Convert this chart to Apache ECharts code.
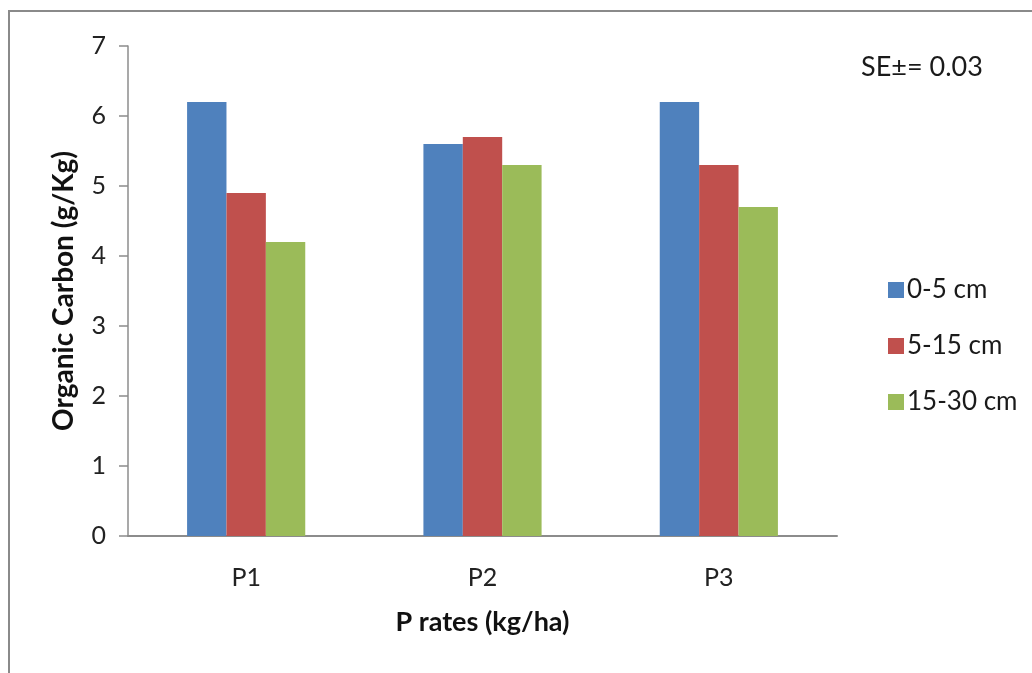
<!DOCTYPE html>
<html>
<head>
<meta charset="utf-8">
<script src="https://cdn.jsdelivr.net/npm/echarts@6/dist/echarts.min.js"></script>
<style>
  html, body { margin: 0; padding: 0; background: #fff; }
  #chart { width: 1032px; height: 673px; position: relative; }
  #frame { position: absolute; left: 8px; top: 10px; right: -4px; bottom: -4px;
           border: 2px solid #8a8a8a; pointer-events: none; }
</style>
</head>
<body>
<div id="chart"></div>
<div id="frame"></div>
<script>
// Phosphorus application rates
const categories = ['P1', 'P2', 'P3'];
// Organic carbon (g/Kg) by soil depth
const depth0to5 = [6.2, 5.6, 6.2];
const depth5to15 = [4.9, 5.7, 5.3];
const depth15to30 = [4.2, 5.3, 4.7];
const seriesNames = ['0-5 cm', '5-15 cm', '15-30 cm'];
const yTicks = [0, 1, 2, 3, 4, 5, 6, 7];
const yTitle = 'Organic Carbon (g/Kg)';

const FONT = 'Lato, "Noto Sans", sans-serif';
const colors = ['#4F81BD', '#C0504D', '#9BBB59'];

const chart = echarts.init(document.getElementById('chart'), null, { renderer: 'canvas' });

const seriesData = [depth0to5, depth5to15, depth15to30];

chart.setOption({
  animation: false,
  backgroundColor: '#fff',
  color: colors,
  textStyle: { fontFamily: FONT },
  grid: { left: 128, right: 195, top: 46, bottom: 137, containLabel: false },
  title: {
    text: 'SE±= 0.03',
    left: 856, top: 49,
    textStyle: { fontFamily: FONT, fontSize: 27, fontWeight: 'normal', color: '#1a1a1a' }
  },
  // Vertical axis title, centred beside the plot area
  graphic: [{
    type: 'text',
    x: 64, y: 291,
    rotation: Math.PI / 2,
    style: {
      text: yTitle,
      font: 'bold 28px ' + FONT,
      fill: '#111',
      align: 'center',
      verticalAlign: 'middle'
    }
  }],
  legend: {
    orient: 'vertical',
    left: 883, top: 272,
    itemWidth: 16, itemHeight: 16, itemGap: 30,
    icon: 'rect',
    data: seriesNames,
    textStyle: { fontFamily: FONT, fontSize: 26, color: '#1a1a1a', padding: [0, 0, 0, -2] }
  },
  xAxis: {
    type: 'category',
    data: categories,
    name: 'P rates (kg/ha)',
    nameLocation: 'middle',
    nameGap: 73,
    nameTextStyle: { fontFamily: FONT, fontSize: 27, fontWeight: 'bold', color: '#111' },
    axisLine: { lineStyle: { color: '#8c8c8c', width: 2 } },
    axisTick: { show: false },
    axisLabel: { fontFamily: FONT, fontSize: 25, color: '#222', margin: 29 }
  },
  yAxis: {
    type: 'value',
    min: yTicks[0], max: yTicks[yTicks.length - 1], interval: 1,
    axisLine: { show: true, lineStyle: { color: '#8c8c8c', width: 1.5 } },
    axisTick: { show: true, length: 9, lineStyle: { color: '#8c8c8c', width: 1.5 } },
    splitLine: { show: false },
    axisLabel: { fontFamily: FONT, fontSize: 25, color: '#222', margin: 22 }
  },
  series: seriesNames.map((name, i) => ({
    name,
    type: 'bar',
    data: seriesData[i],
    barGap: '0%',
    barCategoryGap: '50%',
    itemStyle: { color: colors[i] }
  }))
});
</script>
</body>
</html>
